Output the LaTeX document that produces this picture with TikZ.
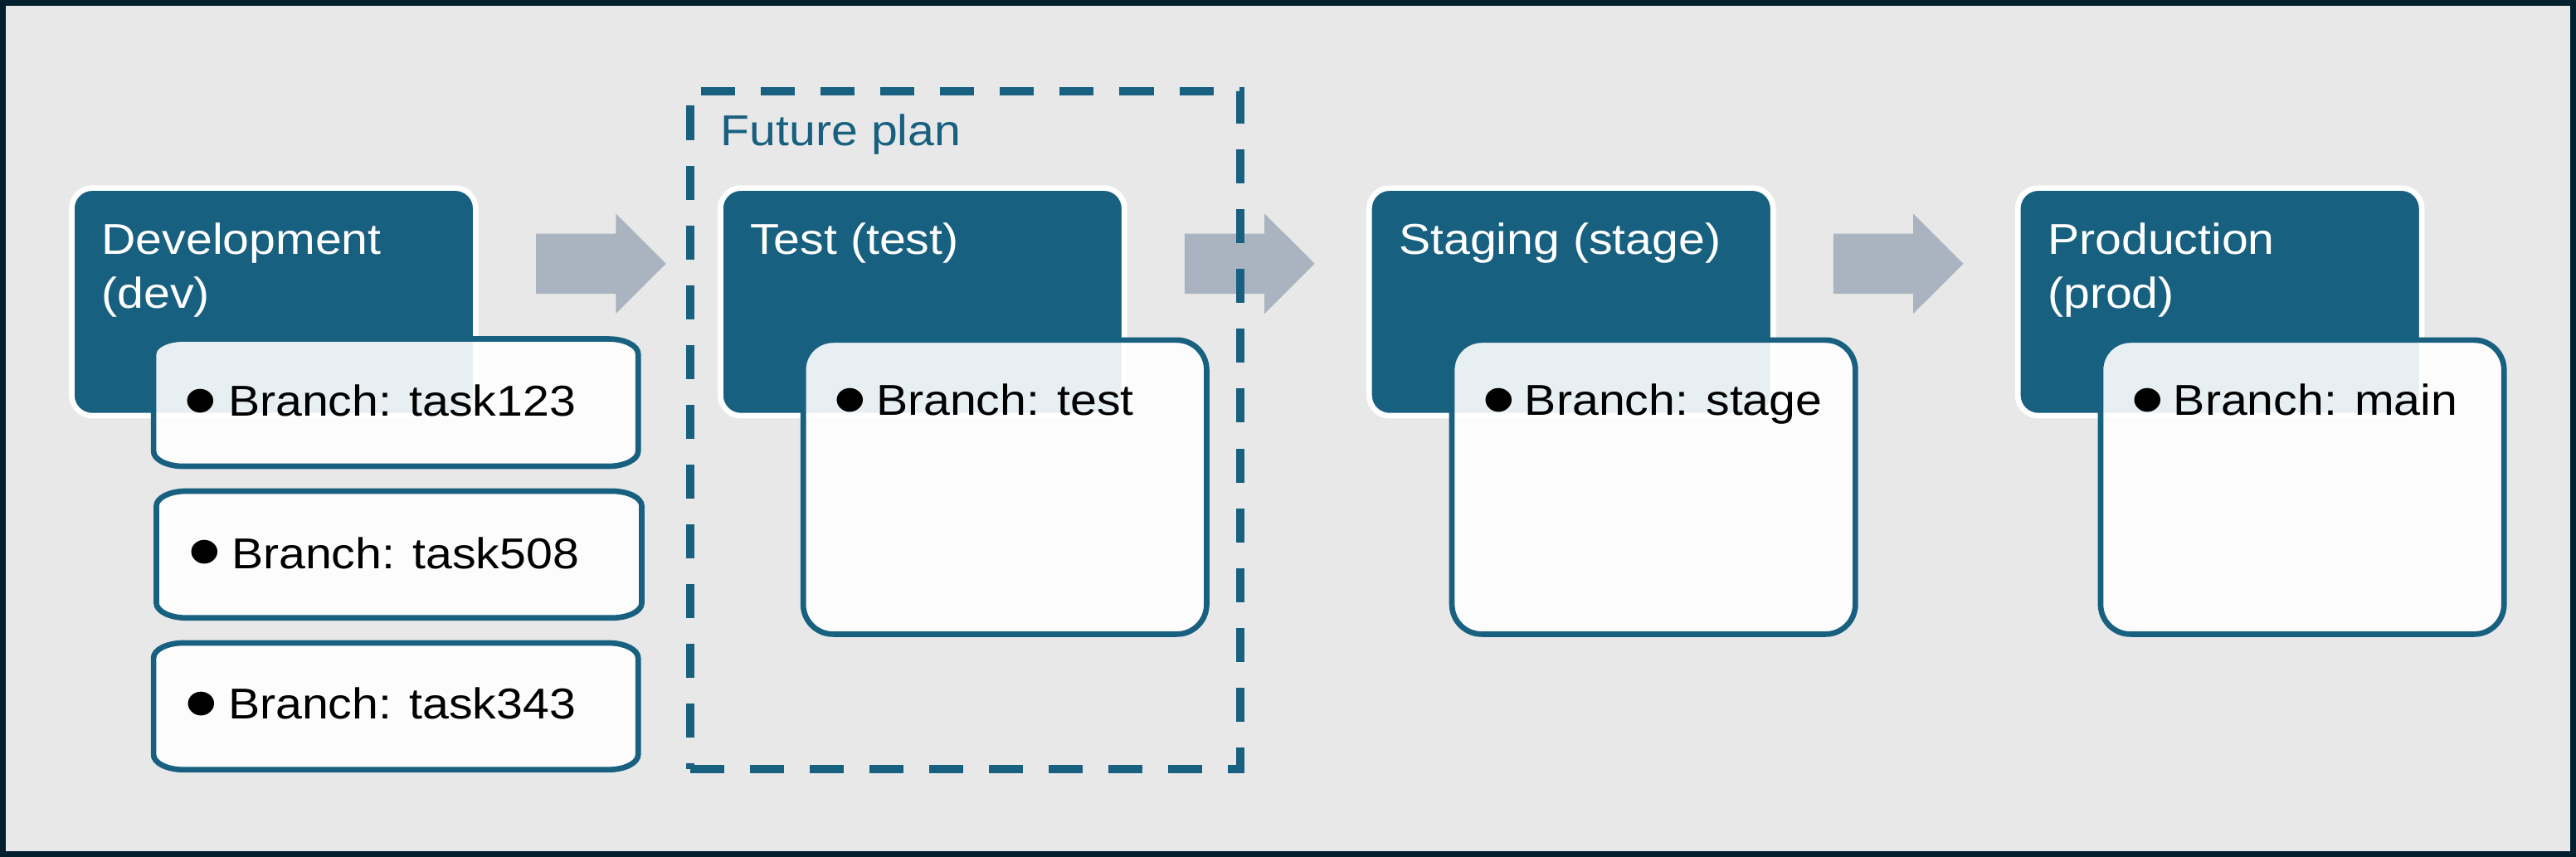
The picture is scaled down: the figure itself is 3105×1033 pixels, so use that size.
\documentclass[tikz,border=0pt]{standalone}
\usepackage{fontspec}
\setmainfont{Liberation Sans}[FakeStretch=1.1]
\usetikzlibrary{calc}
\definecolor{tealc}{HTML}{186080}
\definecolor{bgc}{HTML}{E8E8E8}
\definecolor{framec}{HTML}{03202F}
\definecolor{arrowc}{HTML}{AAB4C0}
\tikzset{
  hdr/.style={draw=white, line width=1.9pt, fill=tealc, rounded corners=7pt,
    minimum width=4.866cm, minimum height=2.743cm, inner sep=0pt},
  wbox/.style={draw=tealc, line width=1.9pt, fill=white, fill opacity=0.9,
    rounded corners=10.2pt, minimum width=4.86cm, minimum height=3.543cm, inner sep=0pt},
  brnode/.style={draw=none, minimum width=5.823cm, minimum height=1.52cm, inner sep=0pt},
  brline/.style={draw=tealc, line width=1.9pt, fill=white, fill opacity=0.9},
  ttl/.style={anchor=base west, text=white, inner sep=0pt, align=left,
    font=\fontsize{14.8pt}{18.5pt}\selectfont},
  brtxt/.style={anchor=base west, text=black, inner sep=0pt,
    font=\fontsize{14.8pt}{18.5pt}\selectfont},
  bul/.style={anchor=center, text=black, inner sep=0pt,
    font=\fontsize{30pt}{30pt}\selectfont},
  blockarrow/.style={fill=arrowc, draw=none},
  dashbox/.style={draw=tealc, line width=2.85pt, dash pattern=on 11.67pt off 8.82pt,
    minimum width=6.63cm, minimum height=8.167cm, inner sep=0pt},
  fplan/.style={anchor=base west, text=tealc, inner sep=0pt,
    font=\fontsize{14.8pt}{18.5pt}\selectfont}
}
\newcommand\ellbox[1]{%
  \path[brline] ([xshift=0.36cm]#1.north west) -- ([xshift=-0.36cm]#1.north east)
    arc[start angle=90, end angle=0, x radius=0.36cm, y radius=0.18cm]
    -- ([yshift=0.18cm]#1.south east)
    arc[start angle=0, end angle=-90, x radius=0.36cm, y radius=0.18cm]
    -- ([xshift=0.36cm]#1.south west)
    arc[start angle=270, end angle=180, x radius=0.36cm, y radius=0.18cm]
    -- ([yshift=-0.18cm]#1.north west)
    arc[start angle=180, end angle=90, x radius=0.36cm, y radius=0.18cm]
    -- cycle;}
\begin{document}
\begin{tikzpicture}[x=0.01cm, y=-0.01cm]
\useasboundingbox (0,0) rectangle (3105,1033);
\fill[bgc] (0,0) rectangle (3105,1033);
\draw[framec, line width=1.99pt] (3.5,3.5) rectangle (3101.5,1029.5);

% block arrows
\foreach \s in {0,781.9,1563.8}{
  \fill[blockarrow] (646+\s,281.7) -- (742.3+\s,281.7) -- (742.3+\s,257.5)
    -- (802.7+\s,317.8) -- (742.3+\s,378.1) -- (742.3+\s,354) -- (646+\s,354) -- cycle;
}

% future plan frame
\node[dashbox] (future) at (1163.5,518.35) {};
\node[fplan] (fp) at (868,175) {Future plan};

% headers
\node[hdr] (dev)   at (329.95,363.85) {};
\node[hdr] (test)  at (1111.85,363.85) {};
\node[hdr] (stage) at (1893.75,363.85) {};
\node[hdr] (prod)  at (2675.65,363.85) {};

\node[ttl] (devt)   at (121.7,371.7) {Development\\(dev)};
\node[ttl] (testt)  at (903.6,306.7) {Test (test)};
\node[ttl] (staget) at (1685.5,306.7) {Staging (stage)};
\node[ttl] (prodt)  at (2467.4,371.7) {Production\\(prod)};

% dev branch boxes
\node[brnode] (t1) at (477.15,485.3) {};
\node[brnode, minimum width=5.834cm, minimum height=1.513cm] (t2) at (481,668.35) {};
\node[brnode, minimum height=1.513cm] (t3) at (477.15,851.35) {};
\ellbox{t1}
\ellbox{t2}
\ellbox{t3}
\node[bul] (b1) at (241.7,493.7) {•};
\node[brtxt] (t1t) at (274.3,501.7) {Branch: task123};
\node[bul] (b2) at (247.3,676) {•};
\node[brtxt] (t2t) at (278.3,685) {Branch: task508};
\node[bul] (b3) at (243.3,858.7) {•};
\node[brtxt] (t3t) at (274.3,866.7) {Branch: task343};

% white boxes
\node[wbox] (wtest)  at (1211.3,587.15) {};
\node[wbox] (wstage) at (1993.2,587.15) {};
\node[wbox] (wprod)  at (2775.1,587.15) {};
\node[bul] (b4) at (1025.3,493) {•};
\node[brtxt] (w1t) at (1055.3,500.7) {Branch: test};
\node[bul] (b5) at (1807.2,493) {•};
\node[brtxt] (w2t) at (1837.2,500.7) {Branch: stage};
\node[bul] (b6) at (2589.1,493) {•};
\node[brtxt] (w3t) at (2619.1,500.7) {Branch: main};
\end{tikzpicture}
\end{document}
